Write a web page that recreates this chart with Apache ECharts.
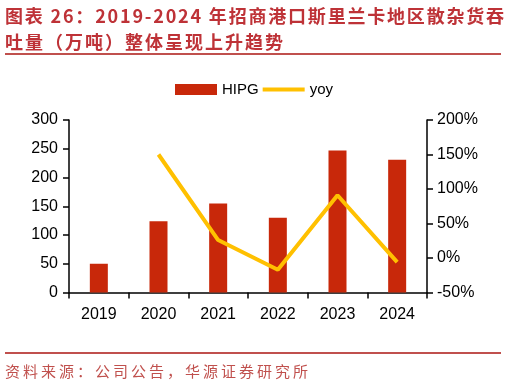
<!DOCTYPE html>
<html>
<head>
<meta charset="utf-8">
<script src="https://cdn.jsdelivr.net/npm/echarts@6/dist/echarts.min.js"></script>
<style>
  html, body { margin: 0; padding: 0; background: #fff; }
  #wrap { position: relative; width: 506px; height: 386px; overflow: hidden; }
  #chart { position: absolute; left: 0; top: 0; width: 506px; height: 386px; }
  .t { position: absolute; left: 5px; font-family: "Noto Sans CJK SC", sans-serif; color: #BE3237; white-space: nowrap; }
  #t1 { top: 2px; font-size: 18px; letter-spacing: 1.8px; font-weight: 700; line-height: 26px; }
  #t2 { top: 28px; font-size: 18px; letter-spacing: 2px; font-weight: 700; line-height: 26px; }
  .rule { position: absolute; left: 5px; width: 496px; height: 2px; background: #C0504D; }
  #src { top: 361px; font-size: 15px; letter-spacing: 3px; line-height: 20px; color: #C0504D; }
</style>
</head>
<body>
<div id="wrap">
  <div id="chart"></div>
  <div class="t" id="t1">图表 26：2019-2024 年招商港口斯里兰卡地区散杂货吞</div>
  <div class="t" id="t2">吐量（万吨）整体呈现上升趋势</div>
  <div class="rule" style="top:53px"></div>
  <div class="rule" style="top:352px"></div>
  <div class="t" id="src">资料来源：公司公告，华源证券研究所</div>
</div>
<script>
const categories = ['2019', '2020', '2021', '2022', '2023', '2024'];
const hipg = [50, 124, 155, 130, 247, 231];
const yoy = [null, 150, 26, -17, 91, -6];
const seriesNames = ['HIPG', 'yoy'];

const chart = echarts.init(document.getElementById('chart'), null, { renderer: 'canvas' });
const axisFont = { fontFamily: 'Liberation Sans, Arial, sans-serif', fontSize: 16, color: '#000' };
chart.setOption({
  animation: false,
  backgroundColor: 'transparent',
  legend: {
    left: 170, top: 77,
    itemWidth: 42, itemHeight: 11, itemGap: 4,
    symbolKeepAspect: true,
    textStyle: { fontFamily: 'Liberation Sans, Arial, sans-serif', fontSize: 15, color: '#000' },
    data: [
      { name: seriesNames[0], icon: 'rect' },
      { name: seriesNames[1], icon: 'path://M0,0H44V4H0Z' }
    ]
  },
  grid: { left: 69, right: 79, top: 120, bottom: 93.5 },
  xAxis: {
    type: 'category',
    data: categories,
    axisLine: { lineStyle: { color: '#000', width: 1.5 } },
    axisTick: { show: true, length: 6, lineStyle: { color: '#000', width: 1.5 } },
    axisLabel: Object.assign({ margin: 14 }, axisFont)
  },
  yAxis: [
    {
      type: 'value', min: 0, max: 300, interval: 50,
      axisLine: { show: true, lineStyle: { color: '#000', width: 1.5 } },
      axisTick: { show: true, length: 6, lineStyle: { color: '#000', width: 1.5 } },
      axisLabel: Object.assign({ margin: 11 }, axisFont),
      splitLine: { show: false }
    },
    {
      type: 'value', min: -50, max: 200, interval: 50,
      axisLine: { show: true, lineStyle: { color: '#000', width: 1.5 } },
      axisTick: { show: true, length: 6, lineStyle: { color: '#000', width: 1.5 } },
      axisLabel: Object.assign({ margin: 10, formatter: '{value}%' }, axisFont),
      splitLine: { show: false }
    }
  ],
  series: [
    {
      name: seriesNames[0], type: 'bar', data: hipg, yAxisIndex: 0,
      barWidth: 18, itemStyle: { color: '#C8280A' }
    },
    {
      name: seriesNames[1], type: 'line', data: yoy, yAxisIndex: 1,
      symbol: 'none', connectNulls: false,
      lineStyle: { color: '#FFC000', width: 4 }, itemStyle: { color: '#FFC000' }
    }
  ]
});
</script>
</body>
</html>
